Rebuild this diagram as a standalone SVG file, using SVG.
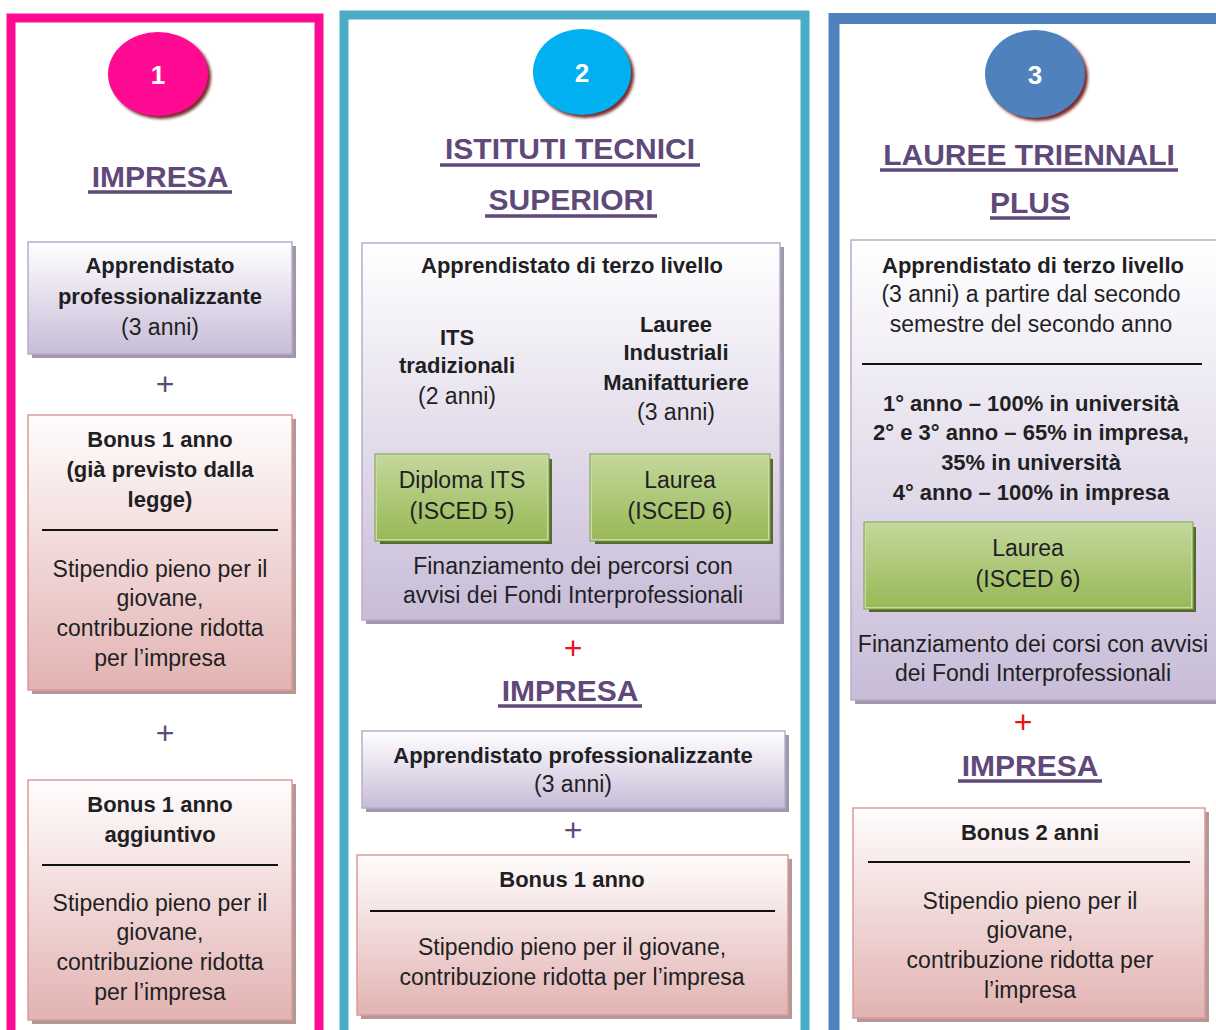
<svg xmlns="http://www.w3.org/2000/svg" width="1216" height="1030" viewBox="0 0 1216 1030">
<style>
text{font-family:"Liberation Sans",Arial,sans-serif;text-anchor:middle;fill:#1f1f24}
.b{font-weight:bold;font-size:22px}
.r{font-size:23px}
.ttl{font-weight:bold;font-size:30px;fill:#5f497a}
.ul{stroke:#5f497a;stroke-width:3.5}
.num{font-weight:bold;font-size:26px;fill:#ffffff}
.plus{font-size:32px;fill:#604a7b}
.plusr{font-size:32px;fill:#e8141e}
.lav{fill:url(#gLav);stroke:#b9acce;stroke-width:1.5}
.pink{fill:url(#gPink);stroke:#d99a99;stroke-width:1.5}
.grn{fill:url(#gGreen);stroke:#c8dca5;stroke-width:2}
.grnO{fill:none;stroke:#7f9d45;stroke-width:1}
.shL{fill:#a097aa}
.shP{fill:#b49898}
.shG{fill:#56692f}
.div{stroke:#111;stroke-width:2}
.frame{fill:none}
</style>
<defs>
<linearGradient id="gLav" x1="0" y1="0" x2="0" y2="1"><stop offset="0" stop-color="#ffffff"/><stop offset="1" stop-color="#c8bcd8"/></linearGradient>
<linearGradient id="gPink" x1="0" y1="0" x2="0" y2="1"><stop offset="0" stop-color="#fffdfd"/><stop offset="1" stop-color="#e2b3b2"/></linearGradient>
<linearGradient id="gGreen" x1="0" y1="0" x2="0" y2="1"><stop offset="0" stop-color="#c3d79c"/><stop offset="1" stop-color="#98b956"/></linearGradient>
<filter id="blur" x="-20%" y="-20%" width="140%" height="140%"><feGaussianBlur stdDeviation="1.5"/></filter>
</defs>
<rect width="1216" height="1030" fill="#ffffff"/>

<!-- Column 1 -->
<g id="col1">
<rect class="frame" x="11" y="18" width="308" height="1030" stroke="#ff0a93" stroke-width="9"/>
<g id="circle1">
<ellipse cx="161" cy="77" rx="50" ry="42" fill="#7b2a2a" filter="url(#blur)"/>
<ellipse cx="158" cy="74" rx="50" ry="42" fill="#ff0a93"/>
<text class="num" x="158" y="84">1</text>
</g>
<g id="title1">
<text class="ttl" x="160" y="187">IMPRESA</text>
<line class="ul" x1="88" y1="192" x2="232" y2="192"/>
</g>
<g id="box1a">
<rect class="shL" x="32" y="246" width="264" height="112"/>
<rect class="lav" x="28" y="242" width="264" height="112"/>
<text class="b" x="160" y="273">Apprendistato</text>
<text class="b" x="160" y="304">professionalizzante</text>
<text class="r" x="160" y="335">(3 anni)</text>
</g>
<text class="plus" x="165" y="395">+</text>
<g id="box1b">
<rect class="shP" x="32" y="419" width="264" height="275"/>
<rect class="pink" x="28" y="415" width="264" height="275"/>
<text class="b" x="160" y="447">Bonus 1 anno</text>
<text class="b" x="160" y="477">(già previsto dalla</text>
<text class="b" x="160" y="507">legge)</text>
<line class="div" x1="42" y1="530" x2="278" y2="530"/>
<text class="r" x="160" y="577">Stipendio pieno per il</text>
<text class="r" x="160" y="606">giovane,</text>
<text class="r" x="160" y="636">contribuzione ridotta</text>
<text class="r" x="160" y="666">per l’impresa</text>
</g>
<text class="plus" x="165" y="744">+</text>
<g id="box1c">
<rect class="shP" x="32" y="784" width="264" height="240"/>
<rect class="pink" x="28" y="780" width="264" height="240"/>
<text class="b" x="160" y="812">Bonus 1 anno</text>
<text class="b" x="160" y="842">aggiuntivo</text>
<line class="div" x1="42" y1="865" x2="278" y2="865"/>
<text class="r" x="160" y="911">Stipendio pieno per il</text>
<text class="r" x="160" y="940">giovane,</text>
<text class="r" x="160" y="970">contribuzione ridotta</text>
<text class="r" x="160" y="1000">per l’impresa</text>
</g>
</g>

<!-- Column 2 -->
<g id="col2">
<rect class="frame" x="344" y="15" width="461" height="1030" stroke="#4bacc6" stroke-width="9"/>
<g id="circle2">
<ellipse cx="585" cy="75" rx="49" ry="43" fill="#7b2a2a" filter="url(#blur)"/>
<ellipse cx="582" cy="72" rx="49" ry="43" fill="#00b0f0"/>
<text class="num" x="582" y="82">2</text>
</g>
<g id="title2">
<text class="ttl" x="570" y="159">ISTITUTI TECNICI</text>
<line class="ul" x1="440" y1="165" x2="700" y2="165"/>
<text class="ttl" x="571" y="210">SUPERIORI</text>
<line class="ul" x1="485" y1="216" x2="657" y2="216"/>
</g>
<g id="box2a">
<rect class="shL" x="366" y="247" width="418" height="377"/>
<rect class="lav" x="362" y="243" width="418" height="377"/>
<text class="b" x="572" y="273">Apprendistato di terzo livello</text>
<text class="b" x="457" y="345">ITS</text>
<text class="b" x="457" y="373">tradizionali</text>
<text class="r" x="457" y="404">(2 anni)</text>
<text class="b" x="676" y="332">Lauree</text>
<text class="b" x="676" y="360">Industriali</text>
<text class="b" x="676" y="390">Manifatturiere</text>
<text class="r" x="676" y="420">(3 anni)</text>
<g id="diplomaITS">
<rect class="shG" x="380" y="459" width="172" height="85"/>
<rect class="grn" x="376" y="455" width="172" height="85"/>
<rect class="grnO" x="375" y="454" width="174" height="87"/>
<text class="r" x="462" y="488">Diploma ITS</text>
<text class="r" x="462" y="519">(ISCED 5)</text>
</g>
<g id="laurea2">
<rect class="shG" x="595" y="459" width="178" height="85"/>
<rect class="grn" x="591" y="455" width="178" height="85"/>
<rect class="grnO" x="590" y="454" width="180" height="87"/>
<text class="r" x="680" y="488">Laurea</text>
<text class="r" x="680" y="519">(ISCED 6)</text>
</g>
<text class="r" x="573" y="574">Finanziamento dei percorsi con</text>
<text class="r" x="573" y="603">avvisi dei Fondi Interprofessionali</text>
</g>
<text class="plusr" x="573" y="659">+</text>
<g id="title2b">
<text class="ttl" x="570" y="701">IMPRESA</text>
<line class="ul" x1="498" y1="706" x2="642" y2="706"/>
</g>
<g id="box2b">
<rect class="shL" x="366" y="735" width="423" height="77"/>
<rect class="lav" x="362" y="731" width="423" height="77"/>
<text class="b" x="573" y="763">Apprendistato professionalizzante</text>
<text class="r" x="573" y="792">(3 anni)</text>
</g>
<text class="plus" x="573" y="841">+</text>
<g id="box2c">
<rect class="shP" x="361" y="859" width="431" height="160"/>
<rect class="pink" x="357" y="855" width="431" height="160"/>
<text class="b" x="572" y="887">Bonus 1 anno</text>
<line class="div" x1="370" y1="911" x2="775" y2="911"/>
<text class="r" x="572" y="955">Stipendio pieno per il giovane,</text>
<text class="r" x="572" y="985">contribuzione ridotta per l’impresa</text>
</g>
</g>

<!-- Column 3 -->
<g id="col3">
<rect class="frame" x="834" y="18.5" width="400" height="1030" stroke="#4f81bd" stroke-width="11"/>
<g id="circle3">
<ellipse cx="1038" cy="77" rx="50" ry="44" fill="#7b2a2a" filter="url(#blur)"/>
<ellipse cx="1035" cy="74" rx="50" ry="44" fill="#4f81bd"/>
<text class="num" x="1035" y="84">3</text>
</g>
<g id="title3">
<text class="ttl" x="1029" y="165">LAUREE TRIENNALI</text>
<line class="ul" x1="880" y1="170" x2="1178" y2="170"/>
<text class="ttl" x="1030" y="213">PLUS</text>
<line class="ul" x1="990" y1="218" x2="1070" y2="218"/>
</g>
<g id="box3a">
<rect class="shL" x="855" y="244" width="370" height="460"/>
<rect class="lav" x="851" y="240" width="370" height="460"/>
<text class="b" x="1033" y="273">Apprendistato di terzo livello</text>
<text class="r" x="1031" y="302">(3 anni) a partire dal secondo</text>
<text class="r" x="1031" y="332">semestre del secondo anno</text>
<line class="div" x1="862" y1="364" x2="1202" y2="364"/>
<text class="b" x="1031" y="411">1° anno – 100% in università</text>
<text class="b" x="1031" y="440">2° e 3° anno – 65% in impresa,</text>
<text class="b" x="1031" y="470">35% in università</text>
<text class="b" x="1031" y="500">4° anno – 100% in impresa</text>
<g id="laurea3">
<rect class="shG" x="869" y="527" width="327" height="85"/>
<rect class="grn" x="865" y="523" width="327" height="85"/>
<rect class="grnO" x="864" y="522" width="329" height="87"/>
<text class="r" x="1028" y="556">Laurea</text>
<text class="r" x="1028" y="587">(ISCED 6)</text>
</g>
<text class="r" x="1033" y="652">Finanziamento dei corsi con avvisi</text>
<text class="r" x="1033" y="681">dei Fondi Interprofessionali</text>
</g>
<text class="plusr" x="1023" y="733">+</text>
<g id="title3b">
<text class="ttl" x="1030" y="776">IMPRESA</text>
<line class="ul" x1="958" y1="781" x2="1102" y2="781"/>
</g>
<g id="box3b">
<rect class="shP" x="857" y="812" width="352" height="210"/>
<rect class="pink" x="853" y="808" width="352" height="210"/>
<text class="b" x="1030" y="840">Bonus 2 anni</text>
<line class="div" x1="868" y1="862" x2="1190" y2="862"/>
<text class="r" x="1030" y="909">Stipendio pieno per il</text>
<text class="r" x="1030" y="938">giovane,</text>
<text class="r" x="1030" y="968">contribuzione ridotta per</text>
<text class="r" x="1030" y="998">l’impresa</text>
</g>
</g>

<g id="connectors"/>
</svg>
